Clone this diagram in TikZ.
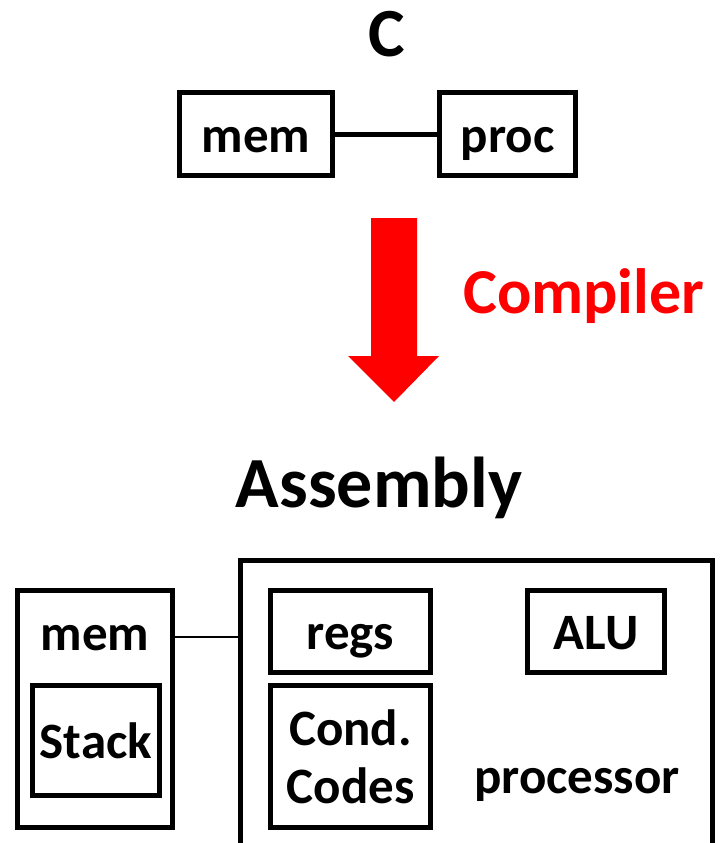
\documentclass[tikz,border=0pt]{standalone}
\usepackage{fontspec}
\setmainfont{Carlito}
\usepackage{tikz}
\usetikzlibrary{positioning,calc}

\begin{document}
\begin{tikzpicture}[
    x=1pt, y=-1pt,
    box/.style={draw, line width=5pt, inner sep=0pt, align=center,
                text height=36pt, text depth=0pt,
                font=\fontsize{51}{58}\selectfont\bfseries},
    lbl/.style={inner sep=0pt, anchor=base, font=\fontsize{51}{58}\selectfont\bfseries},
    title/.style={inner sep=0pt, anchor=base, font=\fontsize{71}{80}\selectfont\bfseries},
    link/.style={line width=5pt},
  ]
  \useasboundingbox (0,0) rectangle (720,843);
  % C level
  \node[title, font=\fontsize{69}{80}\selectfont\bfseries] (ctitle) at (387,57) {C};
  \node[box, minimum width=153pt, minimum height=83pt] (cmem) at (256,134) {mem};
  \node[box, minimum width=136pt, minimum height=83pt] (cproc) at (507.5,134) {proc};
  \draw[link] (cmem.east) -- (cproc.west);
  % Compiler arrow
  \coordinate (tip) at (394,402);
  \fill[red] (371,218) -- (417,218) -- (417,356) -- (439,356) -- (tip)
    -- (348,356) -- (371,356) -- cycle;
  \node[title, anchor=base west, text=red, font=\fontsize{64}{72}\selectfont\bfseries]
    (compiler) at (463,313) {Compiler};
  % Assembly level
  \node[title, font=\fontsize{72}{80}\selectfont\bfseries] (atitle) at (379,507) {Assembly};
  \node[box, minimum width=155pt, minimum height=237pt] (amem) at (95,709) {};
  \node[lbl] (amemlbl) at (95,650) {mem};
  \node[box, minimum width=127pt, minimum height=110pt] (stack) at (96,740.5) {Stack};
  \node[box, minimum width=472pt, minimum height=300pt] (cpu) at (476.5,710) {};
  \node[box, minimum width=160pt, minimum height=82pt] (regs) at (350.5,631.5) {regs};
  \node[box, minimum width=160pt, minimum height=142pt, text height=94pt] (cc)
    at (350.5,756.5) {Cond.\\Codes};
  \node[box, minimum width=137pt, minimum height=82pt] (alu) at (596,631.5) {ALU};
  \node[lbl] (cpulbl) at (577,793) {processor};
  \draw[line width=2pt] (amem.east |- 0,637) -- (cpu.west |- 0,637);
\end{tikzpicture}
\end{document}
